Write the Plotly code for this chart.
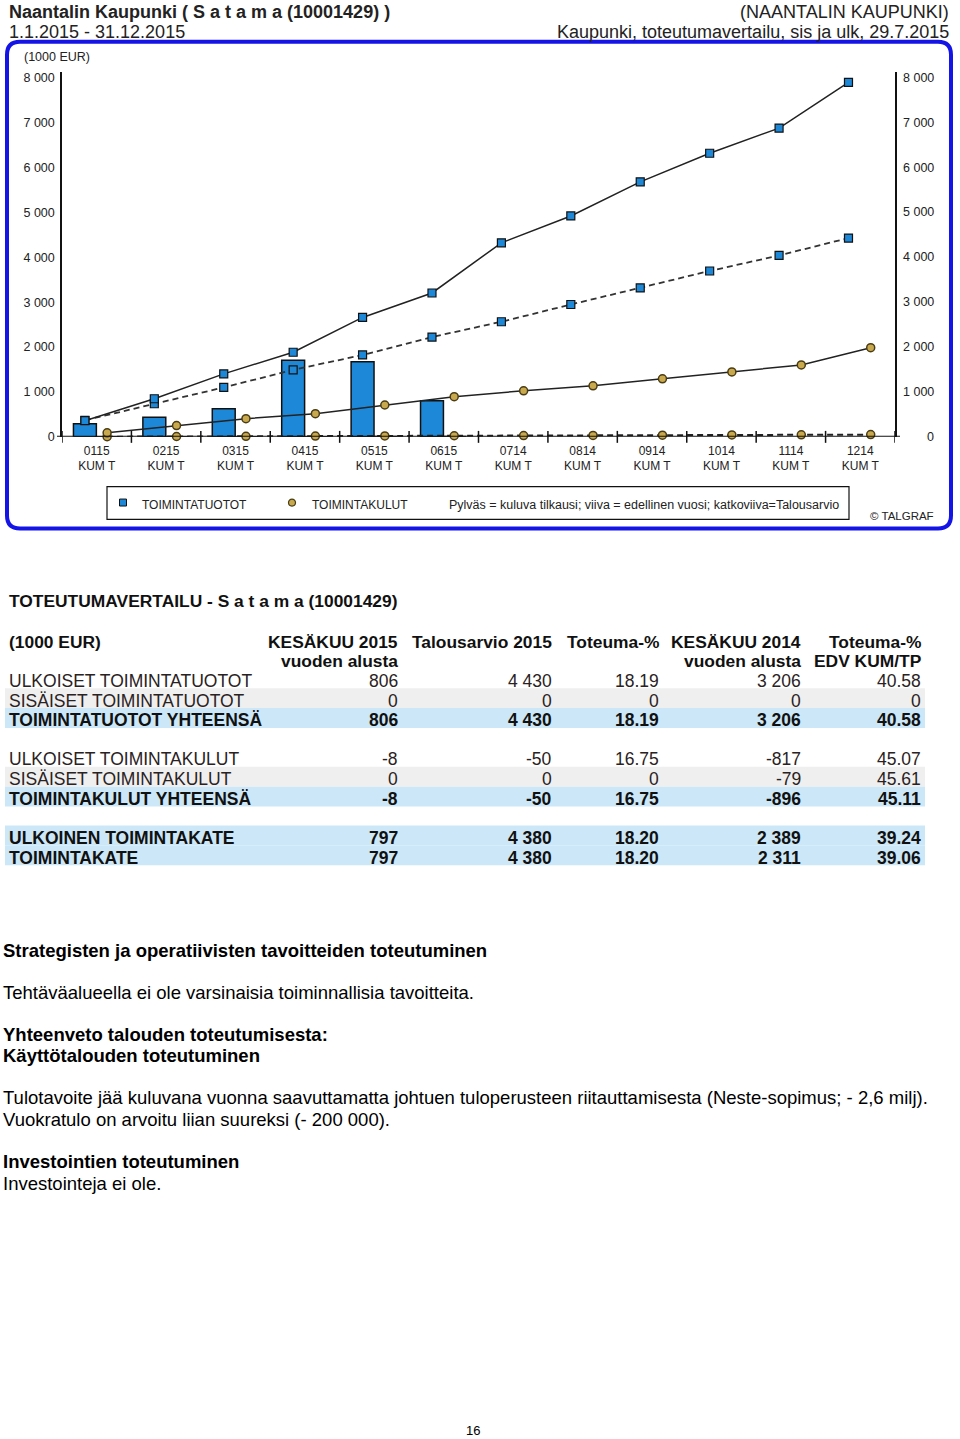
import plotly.graph_objects as go

# ---------------- data ----------------
categories = ["0115", "0215", "0315", "0415", "0515", "0615",
              "0714", "0814", "0914", "1014", "1114", "1214"]
tuotot_kuluva = [294, 435, 625, 1709, 1673, 806]          # bars (current year)
kulut_kuluva = [1, 2, 3, 5, 6, 8]                         # bars (current year, abs)
tuotot_edellinen = [361, 849, 1404, 1885, 2661, 3206, 4324, 4922, 5683, 6319, 6880, 7900]
tuotot_talousarvio = [369, 738, 1102, 1492, 1825, 2224, 2565, 2949, 3319, 3696, 4042, 4430]
kulut_edellinen = [89, 251, 406, 517, 710, 896, 1027, 1138, 1293, 1448, 1603, 1986]
kulut_talousarvio = [4, 8, 12, 17, 21, 25, 29, 33, 38, 42, 46, 50]
y_ticks = [0, 1000, 2000, 3000, 4000, 5000, 6000, 7000, 8000]

row_labels = ["ULKOISET TOIMINTATUOTOT", "SISÄISET TOIMINTATUOTOT", "TOIMINTATUOTOT YHTEENSÄ",
              "ULKOISET TOIMINTAKULUT", "SISÄISET TOIMINTAKULUT", "TOIMINTAKULUT YHTEENSÄ",
              "ULKOINEN TOIMINTAKATE", "TOIMINTAKATE"]
kesakuu_2015 = [806, 0, 806, -8, 0, -8, 797, 797]
talousarvio_2015 = [4430, 0, 4430, -50, 0, -50, 4380, 4380]
toteuma_pct = ["18.19", "0", "18.19", "16.75", "0", "16.75", "18.20", "18.20"]
kesakuu_2014 = [3206, 0, 3206, -817, -79, -896, 2389, 2311]
toteuma_edv = ["40.58", "0", "40.58", "45.07", "45.61", "45.11", "39.24", "39.06"]
row_bold = [False, False, True, False, False, True, True, True]
row_band = [None, "gray", "blue", None, "gray", "blue", "blue", "blue"]

# ---------------- helpers ----------------
W, H = 960, 1439
FONT = "Liberation Sans, Arial, Helvetica, sans-serif"
BLUE = "#1E88D8"
TAN = "#C9A94E"


def px(x):
    return x / W


def py(y):
    return 1 - y / H


def fmt(v):
    s = f"{abs(v):,}".replace(",", " ")
    return ("-" if v < 0 else "") + s


idx = list(range(len(categories)))
off_t = -0.17
off_k = 0.15

fig = go.Figure()

# bars
fig.add_trace(go.Bar(x=[i + off_t for i in idx[:len(tuotot_kuluva)]], y=tuotot_kuluva,
                     width=0.33, marker=dict(color=BLUE, line=dict(color="#111", width=1.5))))
fig.add_trace(go.Bar(x=[i + off_k for i in idx[:len(kulut_kuluva)]], y=kulut_kuluva,
                     width=0.33, marker=dict(color=TAN, line=dict(color="#111", width=1.5))))

sq = dict(symbol="square", size=8, color=BLUE, line=dict(color="#111", width=1.2))
ci = dict(symbol="circle", size=8, color=TAN, line=dict(color="#4a3c14", width=1.5))

fig.add_trace(go.Scatter(x=[i + off_t for i in idx], y=tuotot_talousarvio, mode="lines+markers",
                         line=dict(color="#333", width=1.8, dash="6px,4px"), marker=sq, cliponaxis=False))
fig.add_trace(go.Scatter(x=[i + off_t for i in idx], y=tuotot_edellinen, mode="lines+markers",
                         line=dict(color="#222", width=1.5), marker=sq, cliponaxis=False))
fig.add_trace(go.Scatter(x=[i + off_k for i in idx], y=kulut_talousarvio, mode="lines+markers",
                         line=dict(color="#222", width=2, dash="6px,4px"), marker=ci, cliponaxis=False))
fig.add_trace(go.Scatter(x=[i + off_k for i in idx], y=kulut_edellinen, mode="lines+markers",
                         line=dict(color="#222", width=1.5), marker=ci, cliponaxis=False))

y_top = (439 - 72) / 45.1 * 1000

fig.update_layout(
    width=W, height=H, margin=dict(l=0, r=0, t=0, b=0),
    paper_bgcolor="white", plot_bgcolor="white", showlegend=False,
    font=dict(family=FONT, color="#222"),
    barmode="overlay",
    xaxis=dict(domain=[px(62), px(895)], range=[-0.5, 11.5], tickmode="array",
               tickvals=idx, ticktext=[f"{c}<br>KUM T" for c in categories],
               showgrid=False, zeroline=False, showline=False, ticks="", ticklabelstandoff=5,
               tickfont=dict(size=12, family=FONT, color="#222"), fixedrange=True),
    yaxis=dict(domain=[py(439), py(72)], range=[0, y_top], tickmode="array",
               tickvals=y_ticks, ticktext=[fmt(v) for v in y_ticks],
               showgrid=False, zeroline=False, showline=True, mirror=True,
               linecolor="#111", linewidth=1.5, ticks="", ticklabelstandoff=3,
               tickfont=dict(size=12.5, family=FONT, color="#222"), fixedrange=True),
)

shapes = []
annotations = []

# x axis line and crossing ticks
shapes.append(dict(type="line", xref="paper", yref="y", x0=px(57), x1=px(900), y0=0, y1=0,
                   line=dict(color="#111", width=2)))
for b in range(len(categories) + 1):
    shapes.append(dict(type="line", xref="x", yref="paper", x0=b - 0.5, x1=b - 0.5,
                       y0=py(445), y1=py(433), line=dict(color="#111", width=1.5)))

# right axis labels
for v in y_ticks:
    annotations.append(dict(xref="paper", yref="y", x=px(936), y=v, xanchor="right", yanchor="middle",
                            text=fmt(v), showarrow=False, font=dict(size=12.5, family=FONT, color="#222")))

# rounded blue frame
def rounded_rect(x0, y0, x1, y1, r):
    pts = [
        ("M", [(x0 + r, y0)]), ("L", [(x1 - r, y0)]), ("Q", [(x1, y0), (x1, y0 + r)]),
        ("L", [(x1, y1 - r)]), ("Q", [(x1, y1), (x1 - r, y1)]),
        ("L", [(x0 + r, y1)]), ("Q", [(x0, y1), (x0, y1 - r)]),
        ("L", [(x0, y0 + r)]), ("Q", [(x0, y0), (x0 + r, y0)]),
    ]
    s = ""
    for cmd, ps in pts:
        s += cmd + " " + " ".join(f"{px(a):.5f},{py(b):.5f}" for a, b in ps) + " "
    return s + "Z"


shapes.append(dict(type="path", xref="paper", yref="paper", path=rounded_rect(7, 42, 951, 531, 13),
                   line=dict(color="#1414E6", width=4)))

# legend box
shapes.append(dict(type="rect", xref="paper", yref="paper", x0=px(107), x1=px(849), y0=py(522), y1=py(489),
                   line=dict(color="#111", width=1.2)))
shapes.append(dict(type="rect", xref="paper", yref="paper", x0=px(119.5), x1=px(126.5), y0=py(508.5), y1=py(501.5),
                   fillcolor=BLUE, line=dict(color="#111", width=1)))
shapes.append(dict(type="circle", xref="paper", yref="paper", x0=px(288.5), x1=px(295.5), y0=py(508.5), y1=py(501.5),
                   fillcolor=TAN, line=dict(color="#4a3c14", width=1.2)))


def txt(x, y, text, size, bold=False, anchor="left", color="#222"):
    t = f"<b>{text}</b>" if bold else text
    annotations.append(dict(xref="paper", yref="paper", x=px(x), y=py(y), xanchor=anchor, yanchor="middle",
                            text=t, showarrow=False, font=dict(size=size, family=FONT, color=color)))


txt(140, 507, "TOIMINTATUOTOT", 12)
txt(310, 507, "TOIMINTAKULUT", 12)
txt(447, 507, "Pylväs = kuluva tilkausi; viiva = edellinen vuosi; katkoviiva=Talousarvio", 12.5)
txt(936, 519, "© TALGRAF", 11.5, anchor="right")
txt(22, 57, "(1000 EUR)", 12.5)

# header
txt(7, 12, "Naantalin Kaupunki ( S a t a m a (10001429) )", 18, bold=True)
txt(7, 32, "1.1.2015 - 31.12.2015", 18)
txt(951, 12, "(NAANTALIN KAUPUNKI)", 18, anchor="right")
txt(951, 32, "Kaupunki, toteutumavertailu, sis ja ulk, 29.7.2015", 18, anchor="right")

# ---------------- table ----------------
txt(7, 604, "TOTEUTUMAVERTAILU - S a t a m a (10001429)", 17.4, bold=True, color="#111")
txt(7, 645, "(1000 EUR)", 17.4, bold=True, color="#111")
col_x = [400, 554, 661, 803, 923]
head1 = ["KESÄKUU 2015", "Talousarvio 2015", "Toteuma-%", "KESÄKUU 2014", "Toteuma-%"]
head2 = ["vuoden alusta", "", "", "vuoden alusta", "EDV KUM/TP"]
for cx, h1, h2 in zip(col_x, head1, head2):
    txt(cx, 645, h1, 17.4, bold=True, anchor="right", color="#111")
    if h2:
        txt(cx, 664, h2, 17.4, bold=True, anchor="right", color="#111")

row_y = [681, 701, 721, 760, 780, 800, 839, 859]
band_col = {"gray": "#EFEFEF", "blue": "#CCE8F8"}
for i, lab in enumerate(row_labels):
    yc = row_y[i]
    if row_band[i]:
        shapes.append(dict(type="rect", xref="paper", yref="paper", layer="below",
                           x0=px(5), x1=px(925), y0=py(yc + 10.5), y1=py(yc - 9.5),
                           fillcolor=band_col[row_band[i]], line=dict(width=0)))
    b = row_bold[i]
    col = "#111" if b else "#2a2222"
    size = 17.5
    txt(7, yc + 3, lab, size, bold=b, color=col)
    vals = [fmt(kesakuu_2015[i]), fmt(talousarvio_2015[i]), toteuma_pct[i],
            fmt(kesakuu_2014[i]), toteuma_edv[i]]
    for cx, v in zip(col_x, vals):
        txt(cx, yc + 3, v, size, bold=b, anchor="right", color=col)

# ---------------- text paragraphs ----------------
P = 18.5
txt(1, 955, "Strategisten ja operatiivisten tavoitteiden toteutuminen", P, bold=True, color="#000")
txt(1, 997, "Tehtäväalueella ei ole varsinaisia toiminnallisia tavoitteita.", P, color="#000")
txt(1, 1040, "Yhteenveto talouden toteutumisesta:", P, bold=True, color="#000")
txt(1, 1061, "Käyttötalouden toteutuminen", P, bold=True, color="#000")
txt(1, 1103, "Tulotavoite jää kuluvana vuonna saavuttamatta johtuen tuloperusteen riitauttamisesta "
             "(Neste-sopimus; - 2,6 milj).", P, color="#000")
txt(1, 1125, "Vuokratulo on arvoitu liian suureksi (- 200 000).", P, color="#000")
txt(1, 1167, "Investointien toteutuminen", P, bold=True, color="#000")
txt(1, 1189, "Investointeja ei ole.", P, color="#000")
txt(473, 1437, "16", 13, anchor="center", color="#000")

fig.update_layout(shapes=shapes, annotations=annotations)
fig.write_html("out.html")
